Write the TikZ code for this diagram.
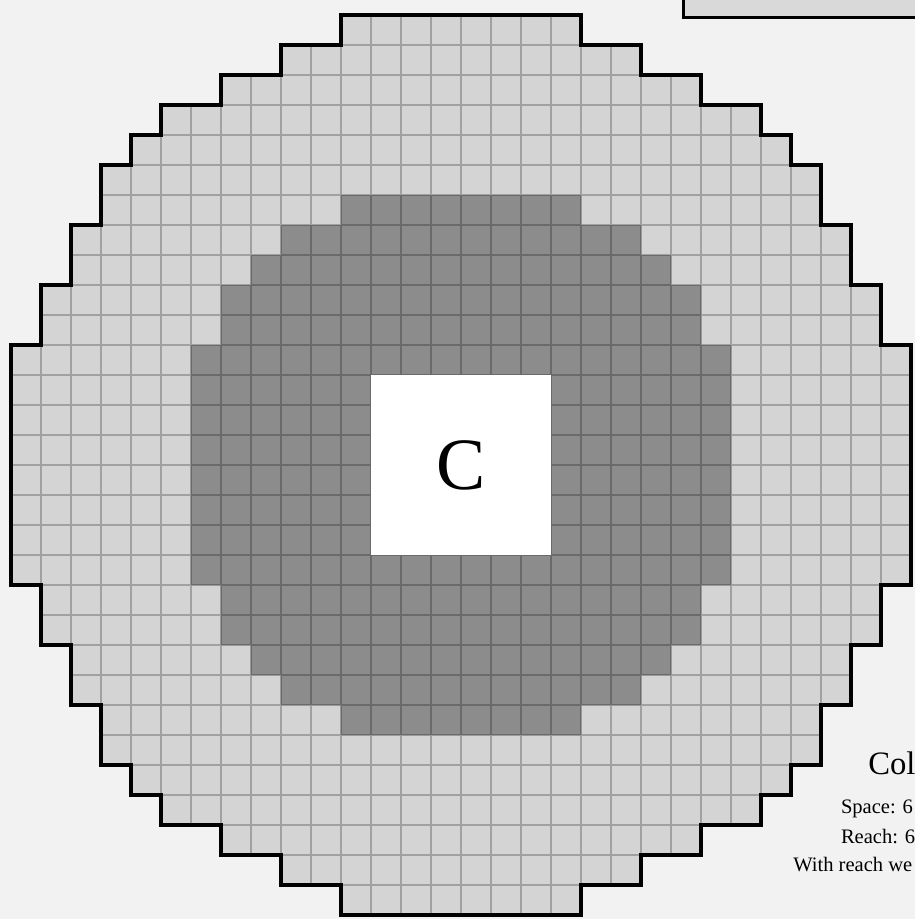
\documentclass[tikz,border=0pt]{standalone}
\usepackage{fontspec}
\setmainfont{Liberation Serif}
\begin{document}
\begin{tikzpicture}[x=1cm,y=-1cm,
  lightcell/.style={fill=black!17},
  darkcell/.style={fill=black!45},
  gridline/.style={draw=black,opacity=0.24,line width=1.3pt},
  outline/.style={draw=black,line width=3.4pt,line join=miter},
  creaturebox/.style={fill=white,draw=none,minimum size=6cm,inner sep=0pt,font=\fontsize{70}{72}\selectfont},
  bigtext/.style={anchor=base west,inner sep=0pt,font=\fontsize{31}{33}\selectfont},
  smalltext/.style={anchor=base west,inner sep=0pt,font=\fontsize{19.5}{21}\selectfont}]
\def\outerpath{(-1,-12) -- (7,-12) -- (7,-11) -- (9,-11) -- (9,-10) -- (11,-10) -- (11,-9) -- (13,-9) -- (13,-8) -- (14,-8) -- (14,-7) -- (15,-7) -- (15,-5) -- (16,-5) -- (16,-3) -- (17,-3) -- (17,-1) -- (18,-1)
 -- (18,7) -- (17,7) -- (17,9) -- (16,9) -- (16,11) -- (15,11) -- (15,13) -- (14,13) -- (14,14) -- (13,14) -- (13,15) -- (11,15) -- (11,16) -- (9,16) -- (9,17) -- (7,17) -- (7,18)
 -- (-1,18) -- (-1,17) -- (-3,17) -- (-3,16) -- (-5,16) -- (-5,15) -- (-7,15) -- (-7,14) -- (-8,14) -- (-8,13) -- (-9,13) -- (-9,11) -- (-10,11) -- (-10,9) -- (-11,9) -- (-11,7) -- (-12,7)
 -- (-12,-1) -- (-11,-1) -- (-11,-3) -- (-10,-3) -- (-10,-5) -- (-9,-5) -- (-9,-7) -- (-8,-7) -- (-8,-8) -- (-7,-8) -- (-7,-9) -- (-5,-9) -- (-5,-10) -- (-3,-10) -- (-3,-11) -- (-1,-11) -- cycle}
\def\darkpath{(-1,-6) -- (7,-6) -- (7,-5) -- (9,-5) -- (9,-4) -- (10,-4) -- (10,-3) -- (11,-3) -- (11,-1) -- (12,-1)
 -- (12,7) -- (11,7) -- (11,9) -- (10,9) -- (10,10) -- (9,10) -- (9,11) -- (7,11) -- (7,12)
 -- (-1,12) -- (-1,11) -- (-3,11) -- (-3,10) -- (-4,10) -- (-4,9) -- (-5,9) -- (-5,7) -- (-6,7)
 -- (-6,-1) -- (-5,-1) -- (-5,-3) -- (-4,-3) -- (-4,-4) -- (-3,-4) -- (-3,-5) -- (-1,-5) -- cycle}
\useasboundingbox (-12.3667,-12.5) rectangle (18.1333,18.1333);
\clip (-12.3667,-12.5) rectangle (18.1333,18.1333);
\fill[black!5] (-12.3667,-12.5) rectangle (18.1333,18.1333);
% part of a neighbouring box at the top right
\draw[fill=black!15,line width=3pt] (10.43,-13.5) rectangle (19,-11.93);
% area
\path[lightcell] \outerpath;
\begin{scope}
  \clip \outerpath;
  \path[darkcell] \darkpath;
  \draw[gridline] (-13,-13) grid (19,19);
\end{scope}
\draw[outline] \outerpath;
% creature
\node[creaturebox] (creature) at (3,3) {C};
% caption
\node[bigtext] (title) at (16.57,13.33) {Col};
\node[smalltext] (space) at (15.66,14.63) {Space: 6};
\node[smalltext] (reach) at (15.66,15.6) {Reach: 6};
\node[smalltext] (withreach) at (14.07,16.55) {With reach we};
\end{tikzpicture}
\end{document}
